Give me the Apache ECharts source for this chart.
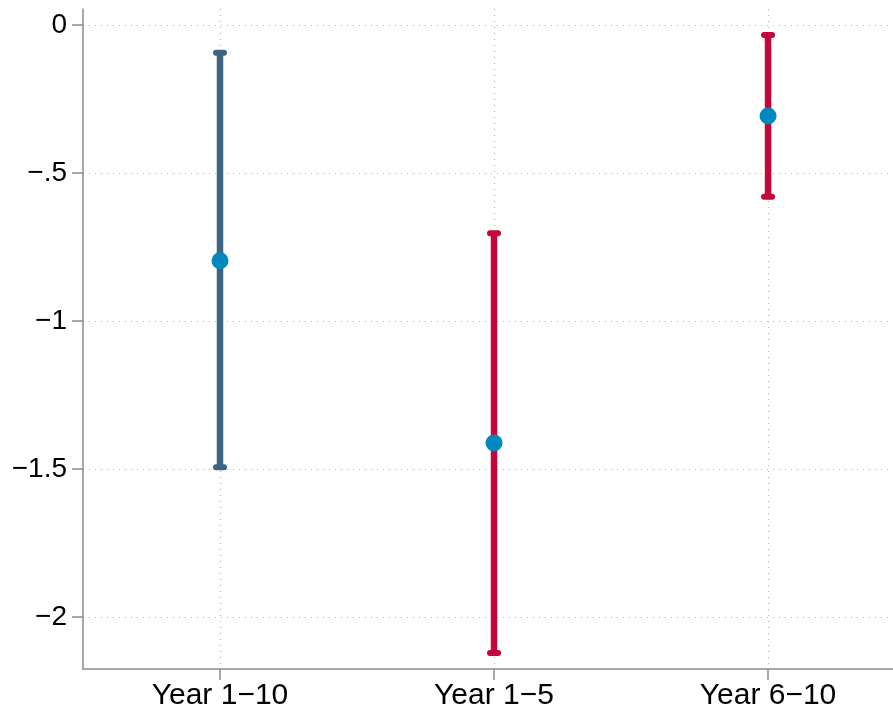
<!DOCTYPE html>
<html>
<head>
<meta charset="utf-8">
<script src="https://cdn.jsdelivr.net/npm/echarts@6/dist/echarts.min.js"></script>
<style>
  html, body { margin: 0; padding: 0; background: #fff; }
  #chart { width: 893px; height: 713px; }
</style>
</head>
<body>
<div id="chart"></div>
<script>
// Estimates with confidence intervals by horizon
const categories = ['Year 1\u221210', 'Year 1\u22125', 'Year 6\u221210'];
const estimates = [-0.796, -1.412, -0.307];
const lowerCI = [-1.494, -2.121, -0.580];
const upperCI = [-0.0935, -0.703, -0.034];
const barColors = ['#3e6480', '#c4063a', '#c4063a'];
const yTicks = [0, -0.5, -1, -1.5, -2];

const fmtNum = v => {
  if (v === 0) return '0';
  let s = Math.abs(v).toString().replace(/^0\./, '.');
  return (v < 0 ? '\u2212' : '') + s;
};

const xPos = categories.map((_, i) => i + 1);
const ciData = categories.map((_, i) => [xPos[i], lowerCI[i], upperCI[i], i]);
const pointData = categories.map((_, i) => [xPos[i], estimates[i]]);

const gridColor = '#b4b4b4';
const axisColor = '#8c8c8c';
const font = '"Liberation Sans", Arial, sans-serif';

const chart = echarts.init(document.getElementById('chart'), null, { renderer: 'canvas' });
chart.setOption({
  animation: false,
  backgroundColor: '#ffffff',
  grid: { left: 83, right: 0, top: 9, bottom: 44 },
  xAxis: {
    type: 'value',
    min: 0.5,
    max: 3.456,
    axisLine: { show: true, onZero: false, lineStyle: { color: axisColor, width: 1.5 } },
    axisTick: { show: true, length: 11, customValues: xPos, lineStyle: { color: axisColor, width: 1.5 } },
    axisLabel: {
      customValues: xPos,
      margin: 12,
      color: '#000',
      fontSize: 30,
      fontFamily: font,
      formatter: v => categories[Math.round(v) - 1] || ''
    },
    splitLine: { show: true, lineStyle: { color: gridColor, type: [1, 5], width: 1.2 } }
  },
  yAxis: {
    type: 'value',
    min: -2.175,
    max: 0.054,
    axisLine: { show: true, onZero: false, lineStyle: { color: axisColor, width: 1.5 } },
    axisTick: { show: true, length: 11, customValues: yTicks, lineStyle: { color: axisColor, width: 1.5 } },
    axisLabel: {
      customValues: yTicks,
      margin: 16,
      color: '#000',
      fontSize: 28,
      fontFamily: font,
      formatter: fmtNum
    },
    splitLine: { show: true, lineStyle: { color: gridColor, type: [1, 5], width: 1.2 } }
  },
  series: [
    {
      type: 'custom',
      data: ciData,
      z: 2,
      renderItem: (params, api) => {
        const x = api.value(0);
        const lo = api.coord([x, api.value(1)]);
        const hi = api.coord([x, api.value(2)]);
        const color = barColors[api.value(3)];
        const style = { stroke: color, lineWidth: 6, lineCap: 'round' };
        const capHalf = 4;
        return {
          type: 'group',
          children: [
            { type: 'line', shape: { x1: lo[0], y1: lo[1], x2: hi[0], y2: hi[1] }, style: { stroke: color, lineWidth: 6.5 } },
            { type: 'line', shape: { x1: hi[0] - capHalf, y1: hi[1], x2: hi[0] + capHalf, y2: hi[1] }, style },
            { type: 'line', shape: { x1: lo[0] - capHalf, y1: lo[1], x2: lo[0] + capHalf, y2: lo[1] }, style }
          ]
        };
      }
    },
    {
      type: 'scatter',
      data: pointData,
      z: 3,
      symbol: 'circle',
      symbolSize: 17,
      itemStyle: { color: '#0088bf', opacity: 1 }
    }
  ]
});
</script>
</body>
</html>
